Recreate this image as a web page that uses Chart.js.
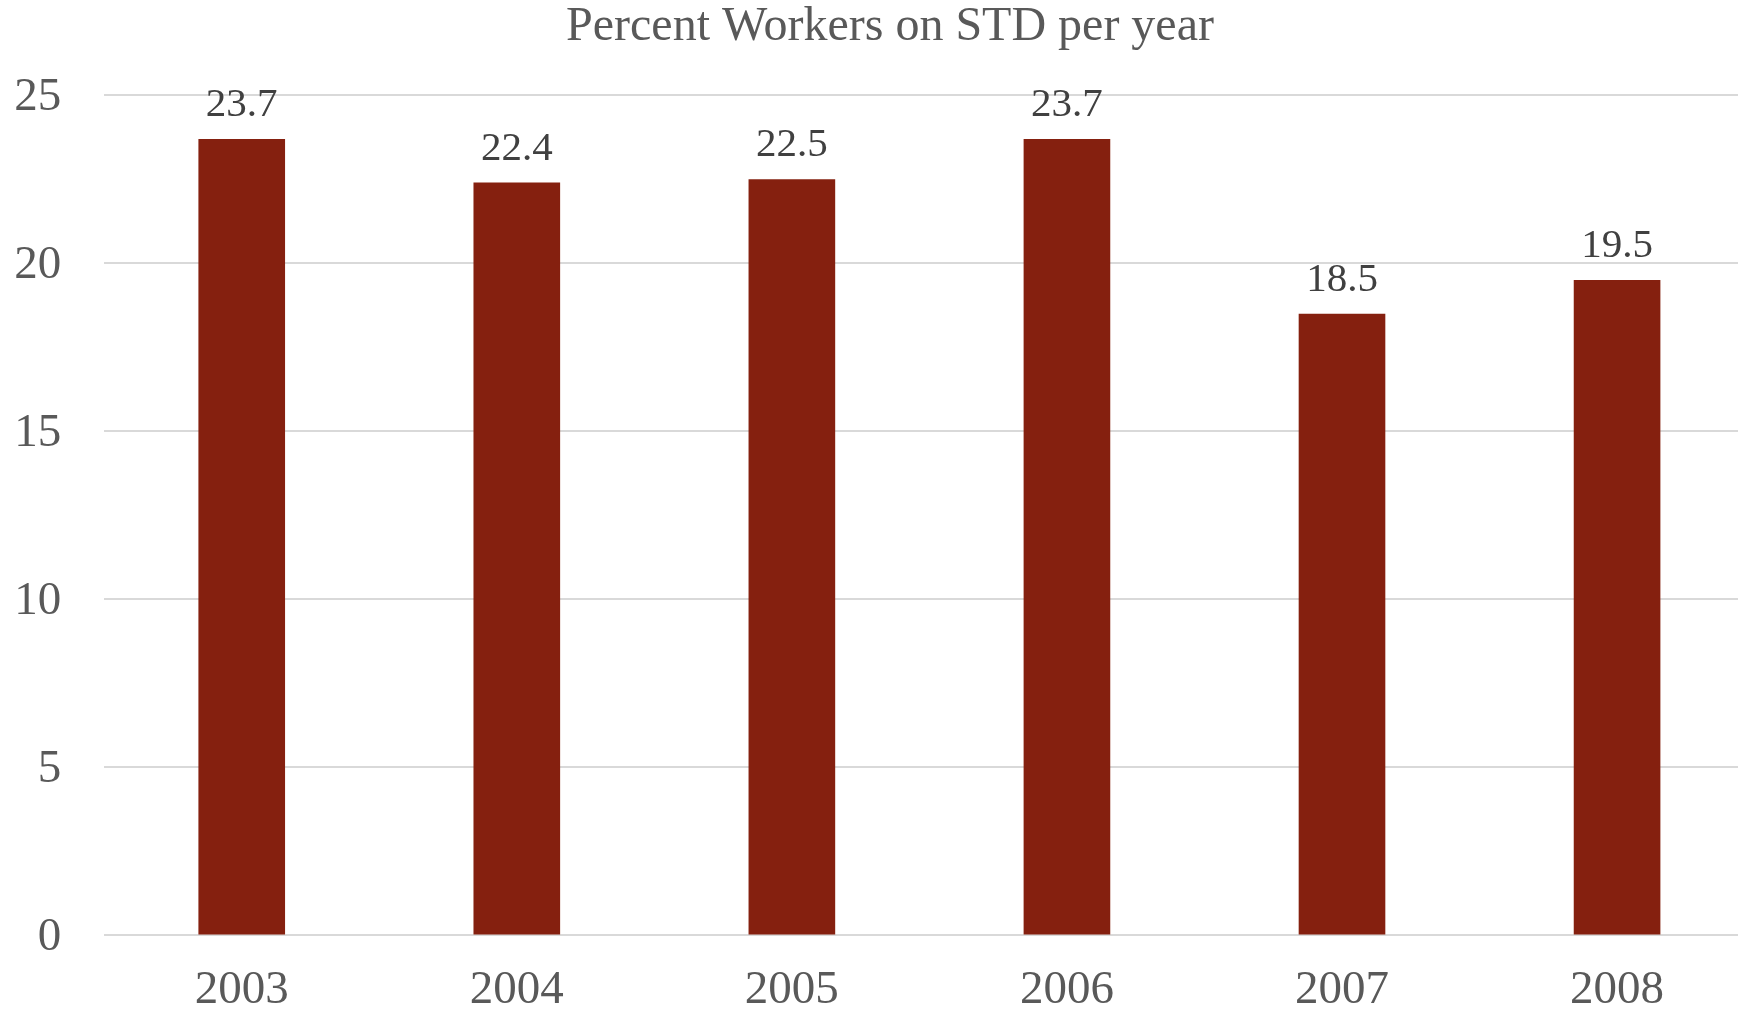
<!DOCTYPE html>
<html>
<head>
<meta charset="utf-8">
<script src="https://cdn.jsdelivr.net/npm/chart.js@4/dist/chart.umd.min.js"></script>
<style>
  html, body { margin: 0; padding: 0; background: #ffffff; overflow: hidden; }
  #wrap { width: 1780px; height: 1011px; }
</style>
</head>
<body>
<div id="wrap"><canvas id="chart" width="1780" height="1011"></canvas></div>
<script>
const years = ['2003', '2004', '2005', '2006', '2007', '2008'];
const percentOnSTD = [23.7, 22.4, 22.5, 23.7, 18.5, 19.5];
const yTicks = [0, 5, 10, 15, 20, 25];
const chartTitle = 'Percent Workers on STD per year';

const SERIF = '"Liberation Serif", "Times New Roman", serif';

// Writes each bar's value just above its top
const valueLabels = {
  id: 'valueLabels',
  afterDatasetsDraw(chart) {
    const ctx = chart.ctx;
    const meta = chart.getDatasetMeta(0);
    ctx.save();
    ctx.font = '41px ' + SERIF;
    ctx.fillStyle = '#404040';
    ctx.textAlign = 'center';
    ctx.textBaseline = 'alphabetic';
    meta.data.forEach((bar, i) => {
      ctx.fillText(String(percentOnSTD[i]), bar.x, bar.y - 23);
    });
    ctx.restore();
  }
};

new Chart(document.getElementById('chart'), {
  type: 'bar',
  data: {
    labels: years,
    datasets: [{
      data: percentOnSTD,
      backgroundColor: '#85200f',
      borderWidth: 0,
      categoryPercentage: 1,
      barPercentage: 0.315
    }]
  },
  options: {
    responsive: false,
    animation: false,
    devicePixelRatio: 1,
    layout: { padding: 0 },
    plugins: {
      legend: { display: false },
      tooltip: { enabled: false },
      title: {
        display: true,
        text: chartTitle,
        color: '#595959',
        font: { family: SERIF, size: 48, weight: 'normal', lineHeight: 1 },
        padding: { top: 3.8, bottom: 43.4 }
      }
    },
    scales: {
      x: {
        grid: { display: false, drawTicks: false },
        border: { display: false },
        ticks: {
          color: '#595959',
          font: { family: SERIF, size: 47, lineHeight: 1 },
          padding: 32,
          maxRotation: 0
        },
        afterFit(scale) { scale.height = 75.6; }
      },
      y: {
        min: 0,
        max: 25,
        afterBuildTicks(scale) { scale.ticks = yTicks.map(v => ({ value: v })); },
        grid: { color: '#d9d9d9', lineWidth: 2, drawTicks: false },
        border: { display: false },
        ticks: {
          color: '#595959',
          font: { family: SERIF, size: 47, lineHeight: 1 },
          padding: 43,
          labelOffset: 2
        },
        afterFit(scale) { scale.width = 104.2; }
      },
      yRight: {
        position: 'right',
        display: true,
        grid: { display: false, drawTicks: false },
        border: { display: false },
        ticks: { display: false },
        afterFit(scale) { scale.width = 25.4; }
      }
    }
  },
  plugins: [valueLabels]
});
</script>
</body>
</html>
